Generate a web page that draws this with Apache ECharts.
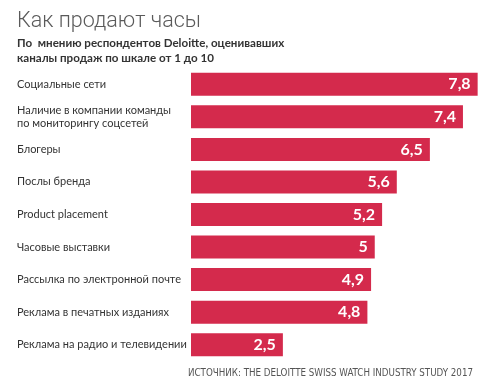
<!DOCTYPE html>
<html><head><meta charset="utf-8">
<script src="https://cdn.jsdelivr.net/npm/echarts@6/dist/echarts.min.js"></script>
<style>html,body{margin:0;padding:0;background:#fff}#c{width:494px;height:380px}</style>
</head><body><div id="c"></div>
<script>
const categories = [
  'Социальные сети',
  'Наличие в компании команды\nпо мониторингу соцсетей',
  'Блогеры',
  'Послы бренда',
  'Product placement',
  'Часовые выставки',
  'Рассылка по электронной почте',
  'Реклама в печатных изданиях',
  'Реклама на радио и телевидении'
];
const values = [7.8, 7.4, 6.5, 5.6, 5.2, 5, 4.9, 4.8, 2.5];
const titleText = 'Как продают часы';
const subtitleText = 'По  мнению респондентов Deloitte, оценивавших\nканалы продаж по шкале от 1 до 10';
const sourceText = 'ИСТОЧНИК: THE DELOITTE SWISS WATCH INDUSTRY STUDY 2017';

const chart = echarts.init(document.getElementById('c'), null, {renderer:'canvas'});
chart.setOption({
  animation: false,
  title: [
    {text: titleText, left: 12, top: 6, textStyle: {fontFamily: 'Roboto', fontWeight: 300, fontSize: 21.5, color: '#5a5a5a'}},
    {text: subtitleText, left: 12, top: 31, textStyle: {fontFamily: 'Lato', fontWeight: 'bold', fontSize: 11.6, lineHeight: 14.5, color: '#333'}},
    {text: sourceText, right: 16, top: 363, textStyle: {fontFamily: '"DejaVu Sans Condensed", "Liberation Sans Narrow", sans-serif', fontWeight: 'normal', fontSize: 9.7, color: '#555'}}
  ],
  grid: {left: 191, right: 9, top: 68, bottom: 19, containLabel: false},
  xAxis: {type: 'value', min: 0, max: 8, show: false},
  yAxis: {
    type: 'category', data: categories, inverse: true,
    axisLine: {show: false}, axisTick: {show: false}, splitLine: {show: false},
    axisLabel: {align: 'left', margin: 174, fontFamily: 'Lato', fontSize: 11, lineHeight: 13, color: '#333'}
  },
  series: [{
    type: 'bar', data: values, barWidth: 23,
    itemStyle: {color: '#d42a4c'},
    label: {show: true, position: 'insideRight', offset: [-2, 0], color: '#fff', fontFamily: 'Lato', fontWeight: 'bold', fontSize: 16,
      formatter: p => String(p.value).replace('.', ',')}
  }]
});
</script></body></html>
